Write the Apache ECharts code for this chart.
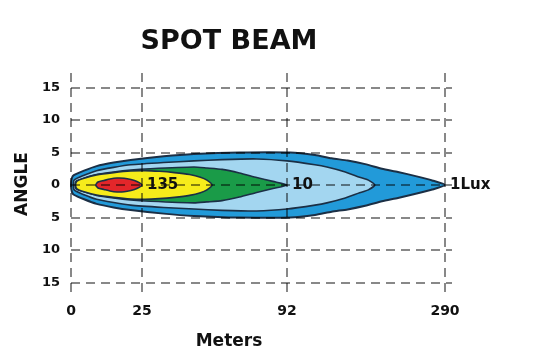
<!DOCTYPE html>
<html><head><meta charset="utf-8">
<script src="https://cdn.jsdelivr.net/npm/echarts@6/dist/echarts.min.js"></script>
<style>html,body{margin:0;padding:0;background:#fff}#c{width:535px;height:363px}</style>
</head><body><div id="c"></div>
<script>
// ---------------- data ----------------
const chartTitle = 'SPOT BEAM';
const xTickLabels = ['0', '25', '92', '290'];
const xTickMeters = [0, 25, 92, 290];
const yTickValues = [-15, -10, -5, 0, 5, 10, 15];
const luxLabels = ['135', '10', '1Lux'];
const luxLabelMeters = [25, 92, 290];
// contour half-widths: [meters, degrees]
const contour1Lux = [[0,0],[0.35,1.1],[1,1.5],[4.6,2.2],[9,2.9],[15,3.45],[21,3.85],[35,4.4],[49,4.75],[70,5],[96,5],[127,4.6],[148,4.1],[168,3.75],[190,3.2],[211,2.5],[231,2],[252,1.4],[274,0.7],[290,0]];
const contourLightBlue = [[0.8,0],[1.2,0.8],[4.6,1.5],[9,2.2],[15,2.7],[21,3.1],[35,3.45],[49,3.7],[62,3.9],[78,4],[92,3.7],[127,3.1],[142,2.75],[165,2],[183,1.2],[194,0.75],[202,0]];
const contour10Lux = [[1.4,0],[1.8,0.6],[4.6,1.05],[9,1.6],[15,2],[21,2.3],[29,2.5],[49,2.75],[55,2.6],[62,2.4],[70,1.85],[78,1.15],[85.5,0.55],[92,0]];
const contour135Lux = [[1.6,0],[2.1,0.6],[4.6,1.04],[9,1.55],[15,1.9],[21,2.15],[26.4,2.2],[33,2.1],[40,1.9],[47,1.6],[52,1.2],[55,0.75],[57.4,0]];
const contourCore = [[8.7,0],[9.5,0.46],[11.6,0.69],[13.7,0.92],[16.2,1.07],[18.7,1.04],[21.1,0.84],[23.2,0.54],[25,0]];

// ---------------- layout ----------------
const X_TICK_POS = [0, 71, 216, 374]; // non-linear distance scale: axis units of each tick
const X_AXIS_MAX = 381;
const Y_MIN = -16.9, Y_MAX = 17.2;
const FONT = "'DejaVu Sans', sans-serif";
const GRID_LINE = { type: [9, 6], color: 'rgba(0,0,0,0.62)', width: 1.5 };

function toAxisX(m) {
  for (let i = 1; i < xTickMeters.length; i++) {
    if (m <= xTickMeters[i] || i === xTickMeters.length - 1) {
      const m0 = xTickMeters[i - 1], m1 = xTickMeters[i];
      const p0 = X_TICK_POS[i - 1], p1 = X_TICK_POS[i];
      return p0 + (m - m0) * (p1 - p0) / (m1 - m0);
    }
  }
}

function contourSeries(name, points, fill, lw) {
  return {
    type: 'custom', name: name, z: 1, silent: true,
    data: [[0, 0]],
    renderItem: function (params, api) {
      const upper = points.map(p => api.coord([toAxisX(p[0]), p[1]]));
      const lower = points.slice(1, -1).reverse().map(p => api.coord([toAxisX(p[0]), -p[1]]));
      return {
        type: 'polygon',
        shape: { points: upper.concat(lower), smooth: 0.2 },
        style: { fill: fill, stroke: '#1b2f45', lineWidth: lw }
      };
    }
  };
}

const chart = echarts.init(document.getElementById('c'), null, { renderer: 'canvas' });
chart.setOption({
  animation: false,
  backgroundColor: '#fff',
  grid: { left: 71, right: 83, top: 73, bottom: 68 },
  graphic: [
    { type: 'text', x: 229, y: 42, style: { text: chartTitle, textAlign: 'center', textVerticalAlign: 'middle', font: "bold 27px 'DejaVu Sans', sans-serif", fill: '#111' } },
    { type: 'text', x: 229, y: 342, style: { text: 'Meters', textAlign: 'center', textVerticalAlign: 'middle', font: "bold 17px 'DejaVu Sans', sans-serif", fill: '#111' } }
  ],
  xAxis: {
    type: 'value', min: 0, max: X_AXIS_MAX, z: 5,
    axisLine: { show: false },
    axisTick: { show: false, customValues: X_TICK_POS },
    axisLabel: { customValues: X_TICK_POS, formatter: v => xTickLabels[X_TICK_POS.indexOf(v)], margin: 9, fontFamily: FONT, fontWeight: 'bold', fontSize: 14, color: '#111' },
    splitLine: { show: true, lineStyle: GRID_LINE }
  },
  yAxis: {
    type: 'value', min: Y_MIN, max: Y_MAX, z: 5,
    name: 'ANGLE', nameLocation: 'middle', nameRotate: 90, nameGap: 38,
    nameTextStyle: { fontFamily: FONT, fontWeight: 'bold', fontSize: 17, color: '#111' },
    axisLine: { show: false },
    axisTick: { show: false, customValues: yTickValues },
    axisLabel: { customValues: yTickValues, formatter: v => String(Math.abs(v)), margin: 11, fontFamily: FONT, fontWeight: 'bold', fontSize: 13, color: '#111' },
    splitLine: { show: true, lineStyle: GRID_LINE }
  },
  series: [
    contourSeries('1 Lux', contour1Lux, '#229ad9', 2),
    contourSeries('light blue', contourLightBlue, '#a3d6f0', 1.6),
    contourSeries('10 Lux', contour10Lux, '#1a9b48', 1.6),
    contourSeries('135 Lux', contour135Lux, '#f6ec1b', 1.6),
    contourSeries('core', contourCore, '#e3262a', 1.6),
    {
      type: 'scatter', z: 10, silent: true, symbolSize: 0,
      itemStyle: { opacity: 1 },
      data: luxLabelMeters.map((m, i) => ({ value: [toAxisX(m), 0], label: { formatter: luxLabels[i] } })),
      label: { show: true, position: 'right', distance: 5, opacity: 1, fontFamily: FONT, fontWeight: 'bold', fontSize: 15, color: '#111' }
    }
  ]
});
</script></body></html>
